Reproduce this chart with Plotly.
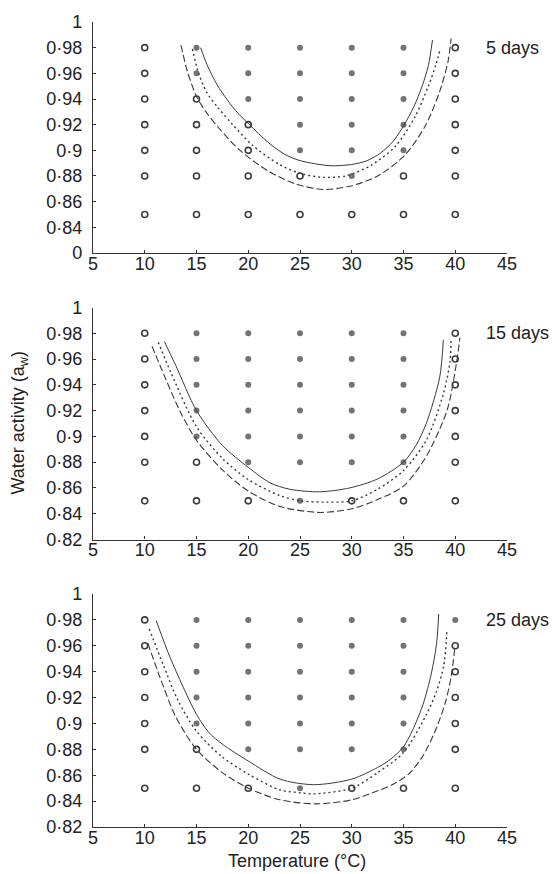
import plotly.graph_objects as go

# ---------------- data ----------------
temps = [10, 15, 20, 25, 30, 35, 40]
aw_levels = [0.85, 0.88, 0.90, 0.92, 0.94, 0.96, 0.98]
panel_labels = ["5 days", "15 days", "25 days"]

# growth (1 = filled dot) / no growth (0 = open circle); rows follow aw_levels, columns follow temps
growth_5 = [
    [0, 0, 0, 0, 0, 0, 0],  # 0.85
    [0, 0, 0, 0, 1, 0, 0],  # 0.88
    [0, 0, 0, 1, 1, 1, 0],  # 0.90
    [0, 0, 0, 1, 1, 1, 0],  # 0.92
    [0, 0, 1, 1, 1, 1, 0],  # 0.94
    [0, 1, 1, 1, 1, 1, 0],  # 0.96
    [0, 1, 1, 1, 1, 1, 0],  # 0.98
]
growth_15 = [
    [0, 0, 0, 1, 0, 0, 0],
    [0, 0, 1, 1, 1, 1, 0],
    [0, 1, 1, 1, 1, 1, 0],
    [0, 1, 1, 1, 1, 1, 0],
    [0, 1, 1, 1, 1, 1, 0],
    [0, 1, 1, 1, 1, 1, 0],
    [0, 1, 1, 1, 1, 1, 0],
]
growth_25 = [
    [0, 0, 0, 1, 0, 0, 0],
    [0, 0, 1, 1, 1, 1, 0],
    [0, 1, 1, 1, 1, 1, 0],
    [0, 1, 1, 1, 1, 1, 0],
    [0, 1, 1, 1, 1, 1, 0],
    [0, 1, 1, 1, 1, 1, 0],
    [0, 1, 1, 1, 1, 1, 1],
]

# boundary curves (solid, dotted, dashed)
solid_5_t = [15.4, 16.0, 17.0, 18.0, 19.0, 20.0, 21.0, 22.1, 23.5, 25.0, 27.9, 30.0, 31.5, 32.8, 34.0, 35.0, 36.0, 36.8, 37.4, 37.8]
solid_5_aw = [0.980, 0.967, 0.951, 0.939, 0.929, 0.921, 0.913, 0.905, 0.897, 0.892, 0.888, 0.889, 0.892, 0.898, 0.907, 0.919, 0.934, 0.950, 0.966, 0.986]
dotted_5_t = [14.6, 15.2, 16.0, 17.1, 18.5, 20.4, 23.0, 25.0, 27.1, 29.4, 31.8, 34.2, 36.1, 37.4, 38.1, 38.55]
dotted_5_aw = [0.979, 0.960, 0.945, 0.933, 0.920, 0.904, 0.889, 0.882, 0.879, 0.880, 0.888, 0.903, 0.926, 0.950, 0.966, 0.979]
dashed_5_t = [13.5, 14.1, 15.0, 16.0, 17.2, 19.2, 21.9, 24.5, 27.2, 29.8, 32.5, 35.1, 37.1, 38.5, 39.3, 39.6]
dashed_5_aw = [0.982, 0.962, 0.942, 0.929, 0.917, 0.900, 0.884, 0.874, 0.8695, 0.872, 0.880, 0.896, 0.919, 0.946, 0.969, 0.987]

solid_15_t = [11.9, 13.0, 15.0, 17.5, 20.0, 22.1, 24.0, 26.9, 29.8, 32.5, 35.0, 36.2, 37.2, 38.5, 38.85]
solid_15_aw = [0.9735, 0.955, 0.920, 0.893, 0.876, 0.864, 0.859, 0.857, 0.860, 0.867, 0.880, 0.893, 0.910, 0.946, 0.975]
dotted_15_t = [11.3, 12.5, 15.0, 17.5, 20.0, 23.07, 25.0, 27.5, 30.0, 32.5, 35.0, 37.2, 38.85, 39.5, 39.6]
dotted_15_aw = [0.973, 0.950, 0.9075, 0.883, 0.8665, 0.854, 0.850, 0.849, 0.850, 0.859, 0.8735, 0.897, 0.933, 0.9586, 0.9766]
dashed_15_t = [10.7, 12.0, 13.5, 15.0, 17.5, 20.0, 23.07, 26.9, 30.0, 32.5, 35.0, 37.2, 39.2, 40.1, 40.45]
dashed_15_aw = [0.970, 0.945, 0.918, 0.897, 0.874, 0.8576, 0.8456, 0.841, 0.8438, 0.851, 0.8614, 0.8845, 0.920, 0.956, 0.9766]

solid_25_t = [11.1, 12.5, 15.0, 16.2, 17.5, 20.0, 23.07, 26.3, 30.0, 32.5, 33.7, 35.0, 36.0, 36.9, 37.7, 38.2, 38.4]
solid_25_aw = [0.9796, 0.950, 0.907, 0.893, 0.884, 0.871, 0.857, 0.8527, 0.857, 0.866, 0.872, 0.882, 0.897, 0.915, 0.939, 0.962, 0.9846]
dotted_25_t = [10.44, 11.8, 13.2, 15.0, 17.5, 20.0, 23.07, 25.0, 26.3, 30.0, 32.5, 35.0, 37.2, 38.2, 38.9, 39.2]
dotted_25_aw = [0.973, 0.945, 0.918, 0.894, 0.874, 0.8609, 0.8486, 0.8465, 0.8456, 0.850, 0.862, 0.8775, 0.9068, 0.925, 0.945, 0.972]
dashed_25_t = [10.3, 11.5, 13.0, 15.0, 17.5, 20.0, 23.07, 26.6, 30.0, 32.5, 34.0, 35.5, 36.8, 38.0, 39.0, 39.6, 39.98]
dashed_25_aw = [0.962, 0.935, 0.905, 0.880, 0.862, 0.850, 0.841, 0.8379, 0.841, 0.848, 0.853, 0.861, 0.874, 0.893, 0.915, 0.936, 0.960]

y_tickvals = [0.82, 0.84, 0.86, 0.88, 0.90, 0.92, 0.94, 0.96, 0.98, 1.0]
y_ticktext_top = ["0", "0·84", "0·86", "0·88", "0·9", "0·92", "0·94", "0·96", "0·98", "1"]
y_ticktext = ["0·82", "0·84", "0·86", "0·88", "0·9", "0·92", "0·94", "0·96", "0·98", "1"]
x_tickvals = [5, 10, 15, 20, 25, 30, 35, 40, 45]

# ---------------- figure ----------------
FONT = "Liberation Sans, Arial, sans-serif"
INK = "#333333"
LINE_C = "#3a3a3a"
FS = 18

growths = [growth_5, growth_15, growth_25]
curves = [
    [(solid_5_t, solid_5_aw), (dotted_5_t, dotted_5_aw), (dashed_5_t, dashed_5_aw)],
    [(solid_15_t, solid_15_aw), (dotted_15_t, dotted_15_aw), (dashed_15_t, dashed_15_aw)],
    [(solid_25_t, solid_25_aw), (dotted_25_t, dotted_25_aw), (dashed_25_t, dashed_25_aw)],
]
styles = [
    dict(dash="solid", width=1.0),
    dict(dash="2px,3px", width=1.4),
    dict(dash="7px,3px", width=1.1),
]

W, H = 553, 874
m_l, m_r, m_t, m_b = 93, 46, 15, 47
ph = H - m_t - m_b
panels_px = [(15, 248), (303, 537), (592, 827)]
domains = [[1 - (b - m_t) / ph, 1 - (t - m_t) / ph] for t, b in panels_px]

fig = go.Figure()

for i in range(3):
    xa = "x" if i == 0 else f"x{i+1}"
    ya = "y" if i == 0 else f"y{i+1}"
    g = growths[i]
    ox, oy, fx, fy = [], [], [], []
    for r, aw in enumerate(aw_levels):
        for c, t in enumerate(temps):
            if g[r][c]:
                fx.append(t); fy.append(aw)
            else:
                ox.append(t); oy.append(aw)
    fig.add_trace(go.Scatter(x=fx, y=fy, mode="markers", xaxis=xa, yaxis=ya,
                             marker=dict(symbol="circle", size=6, color="#737373",
                                         line=dict(width=0)), showlegend=False))
    fig.add_trace(go.Scatter(x=ox, y=oy, mode="markers", xaxis=xa, yaxis=ya,
                             marker=dict(symbol="circle", size=6, color="white",
                                         line=dict(width=1.6, color="#3c3c3c")), showlegend=False))
    for (cx, cy), st in zip(curves[i], styles):
        fig.add_trace(go.Scatter(x=cx, y=cy, mode="lines", xaxis=xa, yaxis=ya,
                                 line=dict(color=LINE_C, width=st["width"], dash=st["dash"],
                                           shape="spline", smoothing=0.8),
                                 showlegend=False))
    fig.add_annotation(x=42.8, y=0.98, xref=xa, yref=ya, text=panel_labels[i],
                       showarrow=False, xanchor="left", yanchor="middle",
                       font=dict(family=FONT, size=FS, color="#222"))

    axis_common = dict(showline=True, linecolor=INK, linewidth=1.2, ticks="inside",
                       ticklen=3, tickcolor=INK, tickwidth=1, showgrid=False, zeroline=False,
                       tickfont=dict(family=FONT, size=FS, color="#222"))
    xkey = "xaxis" if i == 0 else f"xaxis{i+1}"
    ykey = "yaxis" if i == 0 else f"yaxis{i+1}"
    fig.update_layout(**{
        xkey: dict(axis_common, range=[5, 45], tickvals=x_tickvals, domain=[0, 1],
                   anchor=ya, ticklabelstandoff=-6),
        ykey: dict(axis_common, range=[0.82, 1.0], tickvals=y_tickvals,
                   ticktext=y_ticktext_top if i == 0 else y_ticktext,
                   domain=domains[i], anchor=xa, ticklabelstandoff=6),
    })

# axis titles
fig.add_annotation(x=(20 - m_l) / (W - m_l - m_r), y=1 - (420 - m_t) / ph, xref="paper", yref="paper",
                   text="Water activity (a<sub>w</sub>)", textangle=-90, showarrow=False,
                   xanchor="center", yanchor="middle",
                   font=dict(family=FONT, size=FS, color="#222"))
fig.add_annotation(x=(297 - m_l) / (W - m_l - m_r), y=-(861 - 827) / ph, xref="paper", yref="paper",
                   text="Temperature (°C)", showarrow=False, xanchor="center", yanchor="middle",
                   font=dict(family=FONT, size=FS, color="#222"))

fig.update_layout(width=W, height=H, margin=dict(l=m_l, r=m_r, t=m_t, b=m_b),
                  paper_bgcolor="white", plot_bgcolor="white", showlegend=False)

fig.write_html("out.html")
